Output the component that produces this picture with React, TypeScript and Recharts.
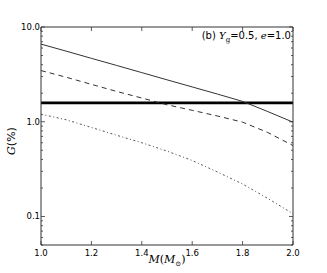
import { LineChart, Line, XAxis, YAxis, ReferenceLine, Label } from 'recharts'

const masses = [1.0, 1.1, 1.2, 1.3, 1.4, 1.5, 1.6, 1.7, 1.8, 1.9, 2.0]
const gSolid = [6.6, 5.56, 4.67, 3.93, 3.3, 2.77, 2.33, 1.96, 1.64, 1.28, 0.99]
const gDashed = [3.47, 2.95, 2.48, 2.09, 1.78, 1.51, 1.32, 1.15, 0.99, 0.77, 0.56]
const gDotted = [1.2, 1.05, 0.87, 0.72, 0.6, 0.49, 0.39, 0.295, 0.22, 0.155, 0.107]
const threshold = 1.58

const xTicks = [1.0, 1.2, 1.4, 1.6, 1.8, 2.0]
const yMajor = [0.1, 1, 10]
const yTicks = [
  0.05, 0.06, 0.07, 0.08, 0.09, 0.1, 0.2, 0.3, 0.4, 0.5, 0.6, 0.7, 0.8, 0.9,
  1, 2, 3, 4, 5, 6, 7, 8, 9, 10,
]

const data = masses.map((m, i) => ({
  m,
  solid: gSolid[i],
  dashed: gDashed[i],
  dotted: gDotted[i],
}))

const FONT = '"DejaVu Sans", sans-serif'
const SERIF = '"DejaVu Serif", serif'
const AXIS = '#333'

const LeftTick = ({ x, y, payload }: any) => {
  const major = yMajor.includes(payload.value)
  return (
    <g>
      <line x1={x} x2={x + (major ? 4 : 2)} y1={y} y2={y} stroke={AXIS} strokeWidth={0.8} />
      {major && (
        <text x={x - 1} y={y} dy={3} textAnchor="end" fontSize={8.5} fontFamily={FONT} fill="#000">
          {payload.value.toFixed(1)}
        </text>
      )}
    </g>
  )
}

const RightTick = ({ x, y, payload }: any) => {
  const major = yMajor.includes(payload.value)
  return <line x1={x} x2={x - (major ? 4 : 2)} y1={y} y2={y} stroke={AXIS} strokeWidth={0.8} />
}

const BottomTick = ({ x, y, payload }: any) => (
  <g>
    <line x1={x} x2={x} y1={y} y2={y - 4} stroke={AXIS} strokeWidth={0.8} />
    <text x={x} y={y + 11} textAnchor="middle" fontSize={8.5} fontFamily={FONT} fill="#000">
      {payload.value.toFixed(1)}
    </text>
  </g>
)

const TopTick = ({ x, y }: any) => (
  <line x1={x} x2={x} y1={y} y2={y + 4} stroke={AXIS} strokeWidth={0.8} />
)

export default function App() {
  return (
    <div style={{ position: 'absolute', left: 0, top: 0, width: 327, height: 273, background: '#fff' }}>
      <LineChart width={327} height={273} data={data} margin={{ top: 0, right: 0, bottom: 0, left: 0 }}>
        <XAxis
          dataKey="m"
          type="number"
          domain={[1, 2]}
          ticks={xTicks}
          height={28}
          tickSize={0}
          tickMargin={0}
          tick={<BottomTick />}
          tickLine={false}
          axisLine={{ stroke: AXIS }}
        >
          <Label
            content={() => (
              <text x={167} y={263} textAnchor="middle" fontSize={11} fontFamily={SERIF} fill="#000">
                <tspan fontStyle="italic">M</tspan>
                <tspan>(</tspan>
                <tspan fontStyle="italic">M</tspan>
                <tspan fontSize={7} dy={3}>⊙</tspan>
                <tspan dy={-3}>)</tspan>
              </text>
            )}
          />
        </XAxis>
        <XAxis
          xAxisId="top"
          orientation="top"
          dataKey="m"
          type="number"
          domain={[1, 2]}
          ticks={xTicks}
          height={27}
          tickSize={0}
          tickMargin={0}
          tick={<TopTick />}
          tickLine={false}
          axisLine={{ stroke: AXIS }}
        />
        <YAxis
          scale="log"
          type="number"
          domain={[0.05, 10]}
          allowDataOverflow
          ticks={yTicks}
          interval={0}
          width={41}
          tickSize={0}
          tickMargin={0}
          tick={<LeftTick />}
          tickLine={false}
          axisLine={{ stroke: AXIS }}
        >
          <Label
            content={() => (
              <text
                x={15}
                y={141}
                transform="rotate(-90 15 141)"
                textAnchor="middle"
                fontSize={11}
                fontFamily={SERIF}
                fill="#000"
              >
                <tspan fontStyle="italic">G</tspan>
                <tspan fontFamily={FONT}>(%)</tspan>
              </text>
            )}
          />
        </YAxis>
        <YAxis
          yAxisId="right"
          orientation="right"
          scale="log"
          type="number"
          domain={[0.05, 10]}
          allowDataOverflow
          ticks={yTicks}
          interval={0}
          width={34}
          tickSize={0}
          tickMargin={0}
          tick={<RightTick />}
          tickLine={false}
          axisLine={{ stroke: AXIS }}
        />
        <ReferenceLine y={threshold} stroke="#000" strokeWidth={2.8} />
        <Line dataKey="solid" stroke="#333" strokeWidth={1} dot={false} isAnimationActive={false} />
        <Line dataKey="dashed" stroke="#333" strokeWidth={1} strokeDasharray="5 4" dot={false} isAnimationActive={false} />
        <Line dataKey="dotted" stroke="#555" strokeWidth={1} strokeDasharray="2 2.5 1 2.5" dot={false} isAnimationActive={false} />
      </LineChart>
      <svg width={327} height={273} style={{ position: 'absolute', left: 0, top: 0, pointerEvents: 'none' }}>
        <text x={291} y={39} textAnchor="end" fontSize={10} fontFamily={FONT} fill="#000">
          <tspan>(b) </tspan>
          <tspan fontFamily={SERIF} fontStyle="italic">Y</tspan>
          <tspan fontFamily={SERIF} fontSize={7} dy={3}>g</tspan>
          <tspan dy={-3}>=0.5, </tspan>
          <tspan fontFamily={SERIF} fontStyle="italic">e</tspan>
          <tspan>=1.0</tspan>
        </text>
      </svg>
    </div>
  )
}
